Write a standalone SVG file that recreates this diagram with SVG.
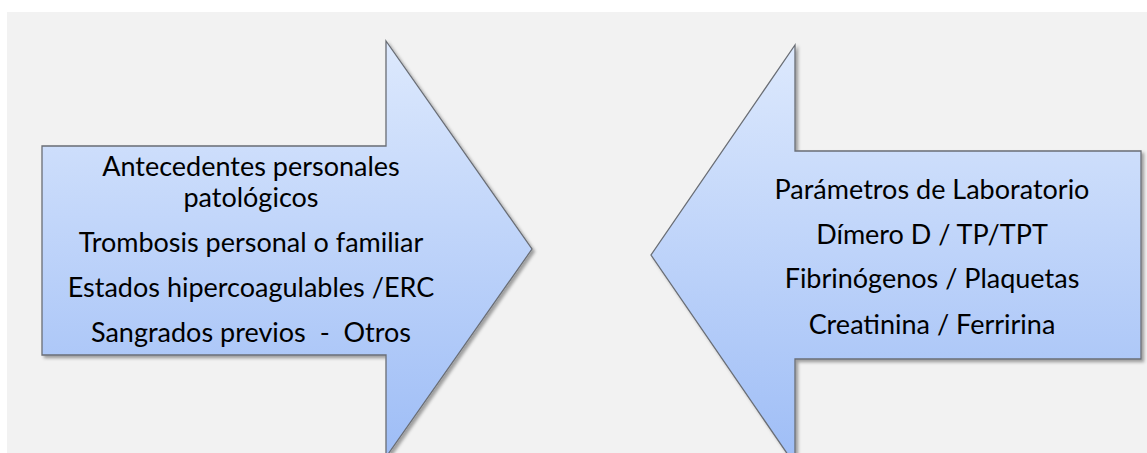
<svg xmlns="http://www.w3.org/2000/svg" width="1147" height="453" viewBox="0 0 1147 453">
  <defs>
    <linearGradient id="fillGrad" x1="0" y1="0" x2="0" y2="1">
      <stop offset="0" stop-color="#dde9fd"/>
      <stop offset="1" stop-color="#9ebdf6"/>
    </linearGradient>
    <filter id="shadow" x="-10%" y="-10%" width="120%" height="120%">
      <feDropShadow dx="2.5" dy="2.5" stdDeviation="1.5" flood-color="#000" flood-opacity="0.35"/>
    </filter>
  </defs>
  <style>
    .arrow { fill: url(#fillGrad); stroke: #6a6e75; stroke-width: 1.3; filter: url(#shadow); }
    .label { font-family: Lato, "Open Sans", "Liberation Sans", sans-serif; font-size: 27px; fill: #000; text-anchor: middle; }
  </style>
  <rect x="0" y="0" width="1147" height="453" fill="#ffffff"/>
  <rect x="7" y="12" width="1140" height="441" fill="#f2f2f2"/>
  <g id="connectors"></g>
  <g id="node-left">
    <path class="arrow" d="M42,146 L386,146 L386,41 L532,249 L386,457 L386,355 L42,355 Z"/>
    <text class="label" x="251" y="176">Antecedentes personales</text>
    <text class="label" x="251" y="207">patológicos</text>
    <text class="label" x="251" y="252">Trombosis personal o familiar</text>
    <text class="label" x="251" y="297">Estados hipercoagulables /ERC</text>
    <text class="label" x="251" y="342" xml:space="preserve">Sangrados previos  -  Otros</text>
  </g>
  <g id="node-right">
    <path class="arrow" d="M1141,151 L795,151 L795,45 L651,255 L795,465 L795,359 L1141,359 Z"/>
    <text class="label" x="932" y="199">Parámetros de Laboratorio</text>
    <text class="label" x="932" y="244">Dímero D / TP/TPT</text>
    <text class="label" x="932" y="288">Fibrinógenos / Plaquetas</text>
    <text class="label" x="932" y="334">Creatinina / Ferririna</text>
  </g>
</svg>
